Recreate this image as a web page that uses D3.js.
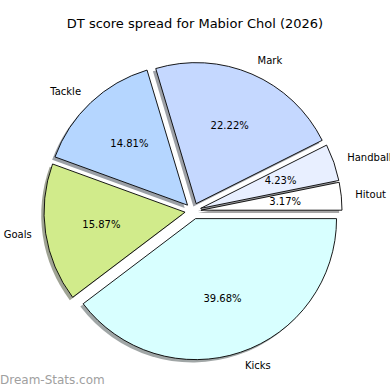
<!DOCTYPE html>
<html>
<head>
<meta charset="utf-8">
<script src="https://cdn.jsdelivr.net/npm/d3@7"></script>
<style>
  html, body { margin: 0; padding: 0; background: #fff; }
  svg { display: block; font-family: 'DejaVu Sans', sans-serif; }
</style>
</head>
<body>
<div id="chart"></div>
<script>
// DT points per stat, counter-clockwise from 3 o'clock
const categories = ['Hitout', 'Handball', 'Mark', 'Tackle', 'Goals', 'Kicks']
const scores = [6, 8, 42, 28, 30, 75]
const colors = ['#ffffff', '#e8efff', '#c5d8ff', '#b5d6ff', '#d1eb8b', '#d8ffff']
const title = 'DT score spread for Mabior Chol (2026)'

const width = 390
const height = 390
const cx = 193
const cy = 211
const radius = 141
const explode = 0.057 * radius
const shadowOffset = 0.02 * radius

const svg = d3.select('#chart')
  .append('svg')
  .attr('width', width)
  .attr('height', height)

svg.append('text')
  .attr('x', 195)
  .attr('y', 24)
  .attr('text-anchor', 'middle')
  .attr('dominant-baseline', 'middle')
  .attr('font-size', 13)
  .text(title)

const data = categories.map((c, i) => ({ name: c, value: scores[i], color: colors[i] }))
const total = d3.sum(scores)

// counter-clockwise, starting at east (d3 angle pi/2)
const pie = d3.pie()
  .sort(null)
  .value(d => d.value)
  .startAngle(Math.PI / 2)
  .endAngle(Math.PI / 2 - 2 * Math.PI)

const arcs = pie(data)
const arc = d3.arc().innerRadius(0).outerRadius(radius)

const mid = d => (d.startAngle + d.endAngle) / 2
const dir = d => [Math.sin(mid(d)), -Math.cos(mid(d))]
const offset = d => {
  const [dx, dy] = dir(d)
  return [cx + dx * explode, cy + dy * explode]
}

const g = svg.append('g')

// shadows under all wedges
g.selectAll('path.shadow')
  .data(arcs)
  .join('path')
  .attr('class', 'shadow')
  .attr('transform', d => {
    const [x, y] = offset(d)
    return `translate(${x - shadowOffset},${y + shadowOffset})`
  })
  .attr('d', arc)
  .attr('fill', d => {
    const c = d3.rgb(d.data.color)
    return d3.rgb(c.r * 0.3, c.g * 0.3, c.b * 0.3)
  })
  .attr('fill-opacity', 0.5)

g.selectAll('path.wedge')
  .data(arcs)
  .join('path')
  .attr('class', 'wedge')
  .attr('transform', d => `translate(${offset(d)})`)
  .attr('d', arc)
  .attr('fill', d => d.data.color)
  .attr('stroke', '#000')
  .attr('stroke-width', 0.9)
  .attr('stroke-linejoin', 'round')

// category labels at 1.1 r
g.selectAll('text.label')
  .data(arcs)
  .join('text')
  .attr('class', 'label')
  .attr('x', d => offset(d)[0] + dir(d)[0] * radius * 1.1)
  .attr('y', d => offset(d)[1] + dir(d)[1] * radius * 1.1)
  .attr('text-anchor', d => dir(d)[0] >= 0 ? 'start' : 'end')
  .attr('dominant-baseline', 'middle')
  .attr('font-size', 10)
  .attr('fill', '#000')
  .text(d => d.data.name)

// percentages at 0.6 r
g.selectAll('text.pct')
  .data(arcs)
  .join('text')
  .attr('class', 'pct')
  .attr('x', d => offset(d)[0] + dir(d)[0] * radius * 0.6)
  .attr('y', d => offset(d)[1] + dir(d)[1] * radius * 0.6)
  .attr('text-anchor', 'middle')
  .attr('dominant-baseline', 'middle')
  .attr('font-size', 10)
  .attr('fill', '#000')
  .text(d => (d.data.value / total * 100).toFixed(2) + '%')

svg.append('text')
  .attr('x', 0)
  .attr('y', 380)
  .attr('dominant-baseline', 'middle')
  .attr('font-size', 12)
  .attr('fill', '#a0a0a0')
  .text('Dream-Stats.com')
</script>
</body>
</html>
